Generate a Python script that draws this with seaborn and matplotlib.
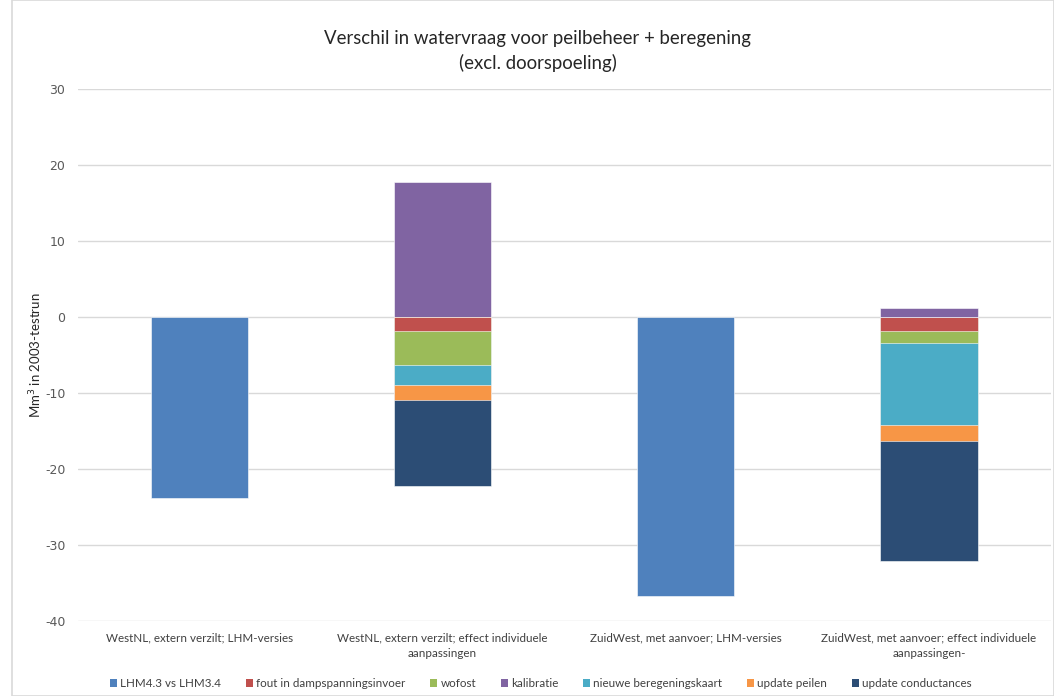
import numpy as np
import pandas as pd
import matplotlib
matplotlib.use("Agg")
import matplotlib.pyplot as plt
from matplotlib.patches import Patch, Rectangle
import seaborn as sns

categories = [
    "WestNL, extern verzilt; LHM-versies",
    "WestNL, extern verzilt; effect individuele\naanpassingen",
    "ZuidWest, met aanvoer; LHM-versies",
    "ZuidWest, met aanvoer; effect individuele\naanpassingen-",
]
series_names = ["LHM4.3 vs LHM3.4", "fout in dampspanningsinvoer", "wofost", "kalibratie",
                "nieuwe beregeningskaart", "update peilen", "update conductances"]
colors = ["#4F81BD", "#C0504D", "#9BBB59", "#8064A2", "#4BACC6", "#F79646", "#2C4D75"]

lhm_versies = [-23.8, np.nan, -36.7, np.nan]
fout_dampspanning = [np.nan, -1.9, np.nan, -1.8]
wofost = [np.nan, -4.4, np.nan, -1.6]
kalibratie = [np.nan, 17.8, np.nan, 1.2]
beregeningskaart = [np.nan, -2.7, np.nan, -10.8]
update_peilen = [np.nan, -1.9, np.nan, -2.1]
update_conductances = [np.nan, -11.3, np.nan, -15.8]

values = [lhm_versies, fout_dampspanning, wofost, kalibratie,
          beregeningskaart, update_peilen, update_conductances]

sns.set_theme(style="white")
plt.rcParams['font.family'] = ['Lato', 'DejaVu Sans']
plt.rcParams['axes.unicode_minus'] = False

fig = plt.figure(figsize=(10.54, 6.96), dpi=100)
ax = fig.add_axes([0.0738, 0.108, 0.923, 0.764])

# stacked layout via cumulative bars (positive and negative stacks separately)
n = len(categories)
pos_base = np.zeros(n)
neg_base = np.zeros(n)
segments = []
for i, vals in enumerate(values):
    v = np.array(vals, dtype=float)
    bottoms = np.where(v >= 0, pos_base, neg_base)
    tops = bottoms + np.nan_to_num(v)
    segments.append((i, bottoms, tops, v))
    pos_base = np.where(v > 0, tops, pos_base)
    neg_base = np.where(v < 0, tops, neg_base)

draw_list = []
for i, bottoms, tops, v in segments:
    for c in range(n):
        if not np.isnan(v[c]):
            draw_list.append((abs(tops[c]), i, c, tops[c]))
draw_list.sort(key=lambda t: -t[0])
for mag, i, c, top in draw_list:
    df = pd.DataFrame({"cat": [categories[c]], "val": [top]})
    sns.barplot(data=df, x="cat", y="val", order=categories, color=colors[i],
                saturation=1, width=0.4, ax=ax, edgecolor="white", linewidth=0.4,
                errorbar=None)

ax.set_ylim(-40, 30)
ax.set_yticks(np.arange(-40, 31, 10))
ax.set_xlim(-0.5, 3.5)
ax.yaxis.grid(True, color="#D9D9D9", linewidth=1)
ax.set_axisbelow(True)
for s in ax.spines.values():
    s.set_visible(False)
ax.tick_params(axis="y", labelsize=9, colors="#595959", length=0, pad=9)
ax.tick_params(axis="x", labelsize=8.4, colors="#404040", length=0, pad=8)
for lab in ax.get_yticklabels():
    lab.set_family(['DejaVu Sans'])
    lab.set_fontsize(9)
for lab in ax.get_xticklabels():
    lab.set_linespacing(1.55)
ax.set_xlabel("")
ax.set_ylabel("Mm$^3$ in 2003-testrun", fontsize=9.5, color="#262626", labelpad=1)

fig.text(0.510, 0.945, "Verschil in watervraag voor peilbeheer + beregening",
         ha="center", va="center", fontsize=13.4, color="#262626")
fig.text(0.510, 0.910, "(excl. doorspoeling)", ha="center", va="center",
         fontsize=13.4, color="#262626")

handles = [Patch(facecolor=col, edgecolor="none", label=nm)
           for nm, col in zip(series_names, colors)]
fig.legend(handles=handles, loc="center", bbox_to_anchor=(0.513, 0.018), ncol=7,
           frameon=False, fontsize=8.4, handlelength=0.6, handleheight=0.6,
           handletextpad=0.3, columnspacing=2.1, labelcolor="#404040")

fig.patches.append(Rectangle((0.011, 0.0), 0.989, 1.0, transform=fig.transFigure,
                             fill=False, edgecolor="#D9D9D9", linewidth=1.2))

fig.savefig("out.png", dpi=100)
